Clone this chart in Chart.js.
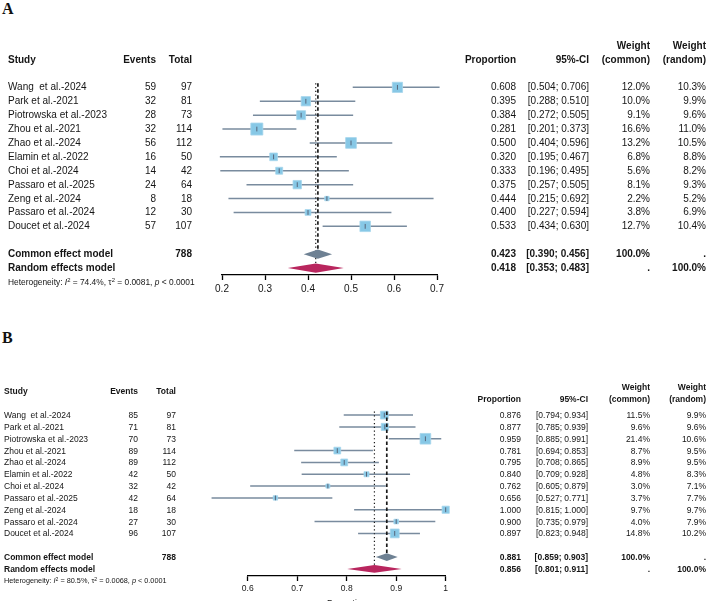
<!DOCTYPE html>
<html>
<head>
<meta charset="utf-8">
<script src="https://cdn.jsdelivr.net/npm/chart.js@4.4.1/dist/chart.umd.min.js"></script>
<style>
  html, body { margin: 0; padding: 0; background: #fff; }
  #page { position: relative; width: 708px; height: 601px; overflow: hidden; background: #fff;
          font-family: "Liberation Sans", Arial, sans-serif; color: #151515; }
  .panel { position: absolute; left: 0; width: 708px; }
  .panel canvas { position: absolute; left: 0; top: 0; }
  .t { position: absolute; white-space: pre; line-height: 1; }
  .b { font-weight: bold; }
  .t sup { font-size: 0.7em; line-height: 0; vertical-align: 0.5em; }
  .tag { position: absolute; font-family: "Liberation Serif", "Times New Roman", serif;
         font-weight: bold; font-size: 16px; line-height: 1; color: #111; }
</style>
</head>
<body>
<div id="page">
  <div class="tag" style="left:2px;top:1px">A</div>
  <div class="tag" style="left:2px;top:330px">B</div>
  <div class="panel" id="panelA" style="top:0;height:305px"><canvas id="chartA" width="708" height="305"></canvas></div>
  <div class="panel" id="panelB" style="top:305px;height:308px"><canvas id="chartB" width="708" height="308"></canvas></div>
</div>
<script>
// studies (same order in both panels)
const studies = ["Wang  et al.-2024", "Park et al.-2021", "Piotrowska et al.-2023", "Zhou et al.-2021",
  "Zhao et al.-2024", "Elamin et al.-2022", "Choi et al.-2024", "Passaro et al.-2025",
  "Zeng et al.-2024", "Passaro et al.-2024", "Doucet et al.-2024"];

// panel A
const eventsA = [59, 32, 28, 32, 56, 16, 14, 24, 8, 12, 57];
const totalA = [97, 81, 73, 114, 112, 50, 42, 64, 18, 30, 107];
const propA = [0.608, 0.395, 0.384, 0.281, 0.500, 0.320, 0.333, 0.375, 0.444, 0.400, 0.533];
const lowerA = [0.504, 0.288, 0.272, 0.201, 0.404, 0.195, 0.196, 0.257, 0.215, 0.227, 0.434];
const upperA = [0.706, 0.510, 0.505, 0.373, 0.596, 0.467, 0.495, 0.505, 0.692, 0.594, 0.630];
const wCommonA = [12.0, 10.0, 9.1, 16.6, 13.2, 6.8, 5.6, 8.1, 2.2, 3.8, 12.7];
const wRandomA = [10.3, 9.9, 9.6, 11.0, 10.5, 8.8, 8.2, 9.3, 5.2, 6.9, 10.4];
const commonA = [0.423, 0.390, 0.456];
const randomA = [0.418, 0.353, 0.483];
const nTotalA = 788;
const hetA = ["74.4%", "0.0081", "< 0.0001"];
const ticksA = [0.2, 0.3, 0.4, 0.5, 0.6, 0.7];

// panel B
const eventsB = [85, 71, 70, 89, 89, 42, 32, 42, 18, 27, 96];
const totalB = [97, 81, 73, 114, 112, 50, 42, 64, 18, 30, 107];
const propB = [0.876, 0.877, 0.959, 0.781, 0.795, 0.840, 0.762, 0.656, 1.000, 0.900, 0.897];
const lowerB = [0.794, 0.785, 0.885, 0.694, 0.708, 0.709, 0.605, 0.527, 0.815, 0.735, 0.823];
const upperB = [0.934, 0.939, 0.991, 0.853, 0.865, 0.928, 0.879, 0.771, 1.000, 0.979, 0.948];
const wCommonB = [11.5, 9.6, 21.4, 8.7, 8.9, 4.8, 3.0, 3.7, 9.7, 4.0, 14.8];
const wRandomB = [9.9, 9.6, 10.6, 9.5, 9.5, 8.3, 7.1, 7.7, 9.7, 7.9, 10.2];
const commonB = [0.881, 0.859, 0.903];
const randomB = [0.856, 0.801, 0.911];
const nTotalB = 788;
const hetB = ["80.5%", "0.0068", "< 0.0001"];
const ticksB = [0.6, 0.7, 0.8, 0.9, 1];

const FONT = '"Liberation Sans", Arial, sans-serif';
const CI_COLOR = '#798b9e';
const BOX_COLOR = '#87c8e6';
const COMMON_COLOR = '#6e8193';
const RANDOM_COLOR = '#b9265e';

// layout per panel (pixels inside each panel)
const layoutA = { font: 10, het: 8.4, tick: 10, plotLeft: 222, plotRight: 437, canvasH: 305, axisY: 275,
  rowMin: -3.5, rowMax: 13.5, padTop: 38.7, studyX: 8, eventsR: 156, totalR: 192,
  propR: 516, ciR: 589, wcR: 650, wrR: 706, headRow: -2, rightHeadRow: -2, weightRow: -3, boxK: 2.95, title: false };
const layoutB = { font: 8.5, het: 7.3, tick: 8.5, plotLeft: 247.7, plotRight: 445.7, canvasH: 308, axisY: 271,
  rowMin: -3.5, rowMax: 13.6, padTop: 68.7, studyX: 4, eventsR: 138, totalR: 176,
  propR: 521, ciR: 588, wcR: 650, wrR: 706, headRow: -2, rightHeadRow: -1.4, weightRow: -2.4, boxK: 2.3, title: true };

function put(panel, html, x, y, align, bold, size) {
  const el = document.createElement('div');
  el.className = 't' + (bold ? ' b' : '');
  el.innerHTML = html;
  el.style.left = x + 'px';
  el.style.top = y + 'px';
  el.style.fontSize = size + 'px';
  el.style.transform = align === 'right' ? 'translate(-100%,-50%)' : 'translate(0,-50%)';
  panel.appendChild(el);
}

function diamondPlugin(items) {
  return {
    id: 'diamonds',
    afterDatasetsDraw(chart) {
      const { ctx, scales: { x, y } } = chart;
      items.forEach(d => {
        const yc = y.getPixelForValue(d.row);
        const yt = y.getPixelForValue(d.row - 0.33);
        const yb = y.getPixelForValue(d.row + 0.33);
        ctx.save();
        ctx.beginPath();
        ctx.moveTo(x.getPixelForValue(d.est[1]), yc);
        ctx.lineTo(x.getPixelForValue(d.est[0]), yt);
        ctx.lineTo(x.getPixelForValue(d.est[2]), yc);
        ctx.lineTo(x.getPixelForValue(d.est[0]), yb);
        ctx.closePath();
        ctx.fillStyle = d.color;
        ctx.fill();
        ctx.restore();
      });
    }
  };
}

function buildPanel(panelId, canvasId, d, L) {
  const panel = document.getElementById(panelId);
  const pts = d.prop.map((p, i) => ({ x: p, y: i }));

  const ciSets = d.prop.map((p, i) => ({
    type: 'line',
    data: [{ x: d.lower[i], y: i }, { x: d.upper[i], y: i }],
    borderColor: CI_COLOR, borderWidth: 1.5, pointRadius: 0, clip: false, order: 4
  }));

  const datasets = ciSets.concat([
    {
      type: 'scatter', data: pts, pointStyle: 'rect',
      pointRadius: d.wCommon.map(w => L.boxK * Math.sqrt(w) / Math.SQRT2),
      backgroundColor: BOX_COLOR, borderColor: '#a6d5ec', borderWidth: 0.8, clip: false, order: 3
    },
    {
      type: 'scatter', data: pts, pointStyle: 'line', rotation: 90, pointRadius: 2.4,
      borderColor: '#56657a', borderWidth: 1, clip: false, order: 2
    },
    {
      type: 'line', data: [{ x: d.common[0], y: -0.3 }, { x: d.common[0], y: 11.67 }],
      borderColor: '#1a1a1a', borderWidth: 1.7, borderDash: [3.5, 2.5], pointRadius: 0, clip: false, order: 1
    },
    {
      type: 'line', data: [{ x: d.random[0], y: -0.3 }, { x: d.random[0], y: 12.67 }],
      borderColor: '#1a1a1a', borderWidth: 1.2, borderDash: [1.2, 2.6], pointRadius: 0, clip: false, order: 1
    }
  ]);

  const chart = new Chart(document.getElementById(canvasId), {
    type: 'scatter',
    data: { datasets },
    options: {
      responsive: false,
      animation: false,
      events: [],
      layout: { padding: { left: L.plotLeft, right: 708 - L.plotRight, top: L.padTop, bottom: 0 } },
      plugins: { legend: { display: false }, tooltip: { enabled: false } },
      scales: {
        x: {
          type: 'linear',
          min: d.ticks[0],
          max: d.ticks[d.ticks.length - 1],
          afterBuildTicks: s => { s.ticks = d.ticks.map(v => ({ value: v })); },
          afterFit: s => { s.height = L.canvasH - L.axisY; },
          border: { display: true, color: '#000', width: 1.3 },
          grid: { display: true, drawOnChartArea: false, drawTicks: true, tickLength: 5, tickWidth: 1.3, tickColor: '#000' },
          ticks: { color: '#151515', font: { family: FONT, size: L.tick }, padding: 3, maxRotation: 0, autoSkip: false,
                   callback: v => String(v) },
          title: { display: L.title, text: 'Proportion', color: '#151515', font: { family: FONT, size: L.tick },
                   padding: { top: 4, bottom: 4 } }
        },
        y: { type: 'linear', reverse: true, min: L.rowMin, max: L.rowMax, display: false }
      }
    },
    plugins: [diamondPlugin([
      { row: 12, est: d.common, color: COMMON_COLOR },
      { row: 13, est: d.random, color: RANDOM_COLOR }
    ])]
  });

  const py = v => chart.scales.y.getPixelForValue(v);
  const f = L.font;

  // headers
  put(panel, 'Study', L.studyX, py(L.headRow), 'left', true, f);
  put(panel, 'Events', L.eventsR, py(L.headRow), 'right', true, f);
  put(panel, 'Total', L.totalR, py(L.headRow), 'right', true, f);
  put(panel, 'Proportion', L.propR, py(L.rightHeadRow), 'right', true, f);
  put(panel, '95%-CI', L.ciR, py(L.rightHeadRow), 'right', true, f);
  put(panel, 'Weight', L.wcR, py(L.weightRow), 'right', true, f);
  put(panel, '(common)', L.wcR, py(L.rightHeadRow), 'right', true, f);
  put(panel, 'Weight', L.wrR, py(L.weightRow), 'right', true, f);
  put(panel, '(random)', L.wrR, py(L.rightHeadRow), 'right', true, f);

  // study rows
  studies.forEach((s, i) => {
    const y = py(i);
    put(panel, s, L.studyX, y, 'left', false, f);
    put(panel, String(d.events[i]), L.eventsR, y, 'right', false, f);
    put(panel, String(d.total[i]), L.totalR, y, 'right', false, f);
    put(panel, d.prop[i].toFixed(3), L.propR, y, 'right', false, f);
    put(panel, '[' + d.lower[i].toFixed(3) + '; ' + d.upper[i].toFixed(3) + ']', L.ciR, y, 'right', false, f);
    put(panel, d.wCommon[i].toFixed(1) + '%', L.wcR, y, 'right', false, f);
    put(panel, d.wRandom[i].toFixed(1) + '%', L.wrR, y, 'right', false, f);
  });

  // pooled rows
  const yc = py(12), yr = py(13);
  put(panel, 'Common effect model', L.studyX, yc, 'left', true, f);
  put(panel, String(d.nTotal), L.totalR, yc, 'right', true, f);
  put(panel, d.common[0].toFixed(3), L.propR, yc, 'right', true, f);
  put(panel, '[' + d.common[1].toFixed(3) + '; ' + d.common[2].toFixed(3) + ']', L.ciR, yc, 'right', true, f);
  put(panel, '100.0%', L.wcR, yc, 'right', true, f);
  put(panel, '.', L.wrR, yc, 'right', true, f);
  put(panel, 'Random effects model', L.studyX, yr, 'left', true, f);
  put(panel, d.random[0].toFixed(3), L.propR, yr, 'right', true, f);
  put(panel, '[' + d.random[1].toFixed(3) + '; ' + d.random[2].toFixed(3) + ']', L.ciR, yr, 'right', true, f);
  put(panel, '.', L.wcR, yr, 'right', true, f);
  put(panel, '100.0%', L.wrR, yr, 'right', true, f);

  put(panel, 'Heterogeneity: <i>I</i><sup>2</sup> = ' + d.het[0] + ', \u03c4<sup>2</sup> = ' + d.het[1] +
      ', <i>p</i> ' + d.het[2].replace('<', '&lt;'), L.studyX, py(14), 'left', false, L.het);
}

buildPanel('panelA', 'chartA', {
  events: eventsA, total: totalA, prop: propA, lower: lowerA, upper: upperA,
  wCommon: wCommonA, wRandom: wRandomA, common: commonA, random: randomA,
  nTotal: nTotalA, het: hetA, ticks: ticksA
}, layoutA);

buildPanel('panelB', 'chartB', {
  events: eventsB, total: totalB, prop: propB, lower: lowerB, upper: upperB,
  wCommon: wCommonB, wRandom: wRandomB, common: commonB, random: randomB,
  nTotal: nTotalB, het: hetB, ticks: ticksB
}, layoutB);
</script>
</body>
</html>
